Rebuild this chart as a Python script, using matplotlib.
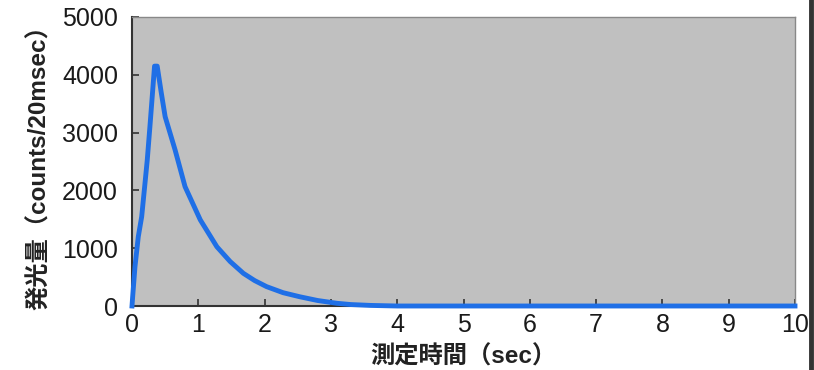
import matplotlib.pyplot as plt
from matplotlib.lines import Line2D

# luminescence vs time
t_sec = [0, 0.01, 0.045, 0.095, 0.146, 0.196, 0.23, 0.27, 0.32, 0.34, 0.38,
         0.44, 0.50, 0.65, 0.80, 1.03, 1.28, 1.48, 1.68, 1.85, 2.03, 2.28,
         2.53, 2.80, 3.09, 3.30, 3.60, 4.00, 10]
counts = [0, 160, 680, 1200, 1545, 2125, 2525, 3100, 3850, 4150, 4150,
          3700, 3275, 2700, 2065, 1490, 1025, 770, 565, 440, 335, 230,
          160, 95, 47, 25, 10, 0, 0]

x_ticks = list(range(0, 11))
y_ticks = [0, 1000, 2000, 3000, 4000, 5000]

latin_jp = ['Liberation Sans', 'Noto Sans CJK JP', 'DejaVu Sans']
plt.rcParams['font.family'] = latin_jp

fig = plt.figure(figsize=(8.14, 3.70), dpi=100)
ax = fig.add_axes([132 / 814, 1 - 306 / 370, (795 - 132) / 814, (306 - 17) / 370])
ax.set_facecolor('#c0c0c0')

ax.plot(t_sec, counts, color='#1f6fe6', linewidth=3.5, clip_on=False, zorder=3)

ax.set_xlim(0, 10)
ax.set_ylim(0, 5000)
ax.set_xticks(x_ticks)
ax.set_yticks(y_ticks)
ax.tick_params(direction='in', length=5, width=1.2, labelsize=18,
               colors='#333333', labelcolor='#1a1a1a')
ax.tick_params(axis='y', pad=10)
ax.tick_params(axis='x', pad=5)

for side in ['left', 'bottom']:
    ax.spines[side].set_color('#333333')
    ax.spines[side].set_linewidth(1.5)
for side in ['top', 'right']:
    ax.spines[side].set_color('#888888')
    ax.spines[side].set_linewidth(1.0)

ax.set_xlabel('測定時間（sec）', fontsize=17.5, fontweight='bold', color='#222222', labelpad=6)
ax.set_ylabel('発光量（counts/20msec）', fontsize=17.5, fontweight='bold', color='#222222', labelpad=8)

# dark border at the right edge of the screenshot
fig.add_artist(Line2D([811 / 814, 811 / 814], [0, 1], color='#333333', linewidth=3.5))

fig.savefig('out.png', dpi=100)
